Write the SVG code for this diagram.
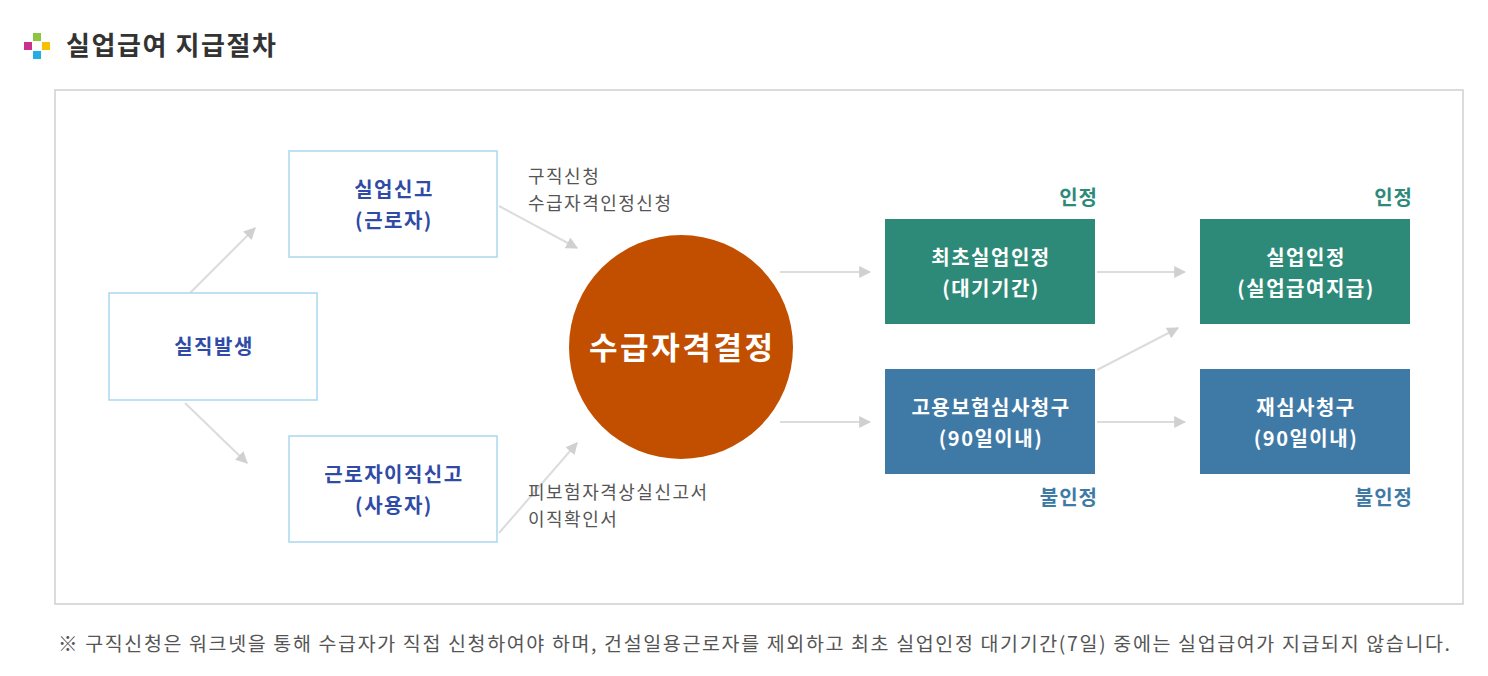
<svg xmlns="http://www.w3.org/2000/svg" width="1488" height="676" viewBox="0 0 1488 676">
<style>
text{font-family:"Noto Sans CJK KR","Noto Sans",sans-serif}
.ob{fill:#fff;stroke:#a9d9ef;stroke-width:1.5}
.ot{fill:#2f4ba6;font-size:20px;font-weight:bold;text-anchor:middle;letter-spacing:1.5px}
.wt{fill:#fff;font-size:20px;font-weight:bold;text-anchor:middle;letter-spacing:1.5px}
.g{fill:#555;font-size:18px;letter-spacing:1.5px}
.c{stroke:#dcdcdc;stroke-width:2;fill:none;marker-end:url(#ah)}
</style>
<defs><marker id="ah" viewBox="0 0 10 10" refX="9" refY="5" markerWidth="12" markerHeight="12" orient="auto" markerUnits="userSpaceOnUse"><path d="M0,0L10,5L0,10z" fill="#d0d0d0"/></marker></defs>
<rect width="1488" height="676" fill="#fff"/>
<g id="title">
<rect x="24" y="42" width="8" height="8" fill="#c8318c"/>
<rect x="33" y="33" width="8" height="8" fill="#8cc63e"/>
<rect x="42" y="42" width="8" height="8" fill="#f7c100"/>
<rect x="33" y="51" width="8" height="8" fill="#23aee3"/>
<text x="66" y="55" font-size="26" font-weight="bold" fill="#333" textLength="210">실업급여 지급절차</text>
</g>
<rect x="55" y="90" width="1408" height="514" fill="none" stroke="#cfcfcf" stroke-width="1.5"/>
<g id="connectors">
<path class="c" d="M190,293L255,228"/>
<path class="c" d="M185,403L247,463"/>
<path class="c" d="M499,206L577,248"/>
<path class="c" d="M499,533L577,443"/>
<path class="c" d="M780,272L870,272"/>
<path class="c" d="M780,422L870,422"/>
<path class="c" d="M1097,272L1185,272"/>
<path class="c" d="M1097,422L1185,422"/>
<path class="c" d="M1097,370L1178,328"/>
</g>
<g id="n1"><rect class="ob" x="289" y="151" width="208" height="106"/><text class="ot" x="394" y="197">실업신고</text><text class="ot" x="394" y="228">(근로자)</text></g>
<g id="n2"><rect class="ob" x="109" y="293" width="208" height="107"/><text class="ot" x="214" y="354">실직발생</text></g>
<g id="n3"><rect class="ob" x="289" y="436" width="208" height="106"/><text class="ot" x="394" y="482">근로자이직신고</text><text class="ot" x="394" y="513">(사용자)</text></g>
<g id="l1"><text class="g" x="528" y="183">구직신청</text><text class="g" x="528" y="210">수급자격인정신청</text></g>
<g id="l2"><text class="g" x="528" y="499">피보험자격상실신고서</text><text class="g" x="528" y="526">이직확인서</text></g>
<g id="circle"><circle cx="681" cy="347" r="112" fill="#c24f00"/><text x="681" y="359" font-size="31" font-weight="bold" fill="#fff" text-anchor="middle" textLength="184">수급자격결정</text></g>
<g id="n4"><rect x="885" y="219" width="210" height="105" fill="#2e8a78"/><text class="wt" x="991" y="265">최초실업인정</text><text class="wt" x="991" y="296">(대기기간)</text></g>
<g id="n5"><rect x="885" y="369" width="210" height="105" fill="#3f7aa6"/><text class="wt" x="991" y="415">고용보험심사청구</text><text class="wt" x="991" y="446">(90일이내)</text></g>
<g id="n6"><rect x="1200" y="219" width="210" height="105" fill="#2e8a78"/><text class="wt" x="1306" y="265">실업인정</text><text class="wt" x="1306" y="296">(실업급여지급)</text></g>
<g id="n7"><rect x="1200" y="369" width="210" height="105" fill="#3f7aa6"/><text class="wt" x="1306" y="415">재심사청구</text><text class="wt" x="1306" y="446">(90일이내)</text></g>
<g font-size="20" font-weight="bold" text-anchor="end" letter-spacing="1">
<text x="1098" y="205" fill="#2e8a78">인정</text>
<text x="1413" y="205" fill="#2e8a78">인정</text>
<text x="1098" y="505" fill="#3f7aa6">불인정</text>
<text x="1413" y="505" fill="#3f7aa6">불인정</text>
</g>
<text x="58" y="651" font-size="19.5" fill="#555" textLength="1392">※ 구직신청은 워크넷을 통해 수급자가 직접 신청하여야 하며, 건설일용근로자를 제외하고 최초 실업인정 대기기간(7일) 중에는 실업급여가 지급되지 않습니다.</text>
</svg>
